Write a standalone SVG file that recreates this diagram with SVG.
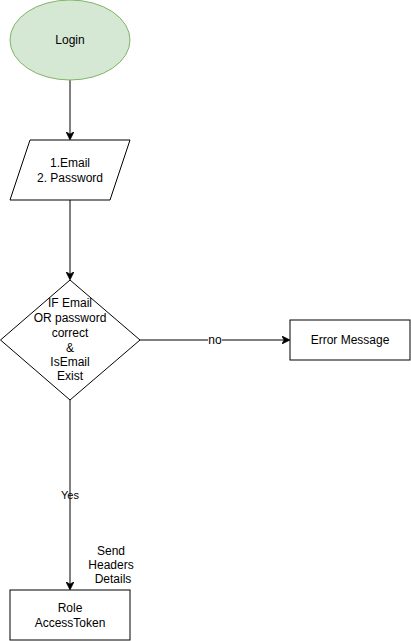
<svg xmlns="http://www.w3.org/2000/svg" width="411" height="641" viewBox="0 0 411 641">
<style>
.t{font-family:"Liberation Sans",Arial,sans-serif;font-size:12px;fill:#000;text-anchor:middle}
.s{fill:#fff;stroke:#000;stroke-width:1}
.e{fill:none;stroke:#000;stroke-width:1}
</style>
<defs>
<marker id="arr" viewBox="0 0 10 10" refX="9" refY="5" markerWidth="8" markerHeight="8" markerUnits="userSpaceOnUse" orient="auto">
<path d="M0,0 L10,5 L0,10 L3,5 Z" fill="#000" stroke="#000" stroke-width="1"/>
</marker>
</defs>
<rect width="411" height="641" fill="#fff"/>
<g id="connectors">
<path class="e" d="M70,80 L70,139" marker-end="url(#arr)"/>
<path class="e" d="M70,200 L70,279" marker-end="url(#arr)"/>
<path class="e" d="M140,340 L289,340" marker-end="url(#arr)"/>
<rect x="208" y="333" width="14" height="14" fill="#fff"/>
<text class="t" x="215" y="344" font-size="11">no</text>
<path class="e" d="M70,400 L70,589" marker-end="url(#arr)"/>
<text class="t" x="70" y="499" style="font-size:11px">Yes</text>
</g>
<g id="login">
<ellipse cx="70" cy="40" rx="60" ry="40" fill="#d5e8d4" stroke="#82b366"/>
<text class="t" x="70" y="44">Login</text>
</g>
<g id="input">
<polygon class="s" points="30,140 130,140 110,200 10,200"/>
<text class="t" x="70" y="167">1.Email</text>
<text class="t" x="70" y="182">2. Password</text>
</g>
<g id="decision">
<polygon class="s" points="70,280 140,340 70,400 0.5,340"/>
<text class="t" x="70" y="307">IF Email</text>
<text class="t" x="70" y="322">OR password</text>
<text class="t" x="70" y="337">correct</text>
<text class="t" x="70" y="352">&amp;</text>
<text class="t" x="70" y="366">IsEmail</text>
<text class="t" x="70" y="380">Exist</text>
</g>
<g id="error">
<rect class="s" x="290" y="320" width="120" height="40"/>
<text class="t" x="350" y="344">Error Message</text>
</g>
<g id="send-label">
<text class="t" x="111" y="555">Send</text>
<text class="t" x="111" y="569">Headers</text>
<text class="t" x="113" y="583">Details</text>
</g>
<g id="role">
<rect class="s" x="10" y="590" width="120" height="50"/>
<text class="t" x="70" y="612">Role</text>
<text class="t" x="70" y="627">AccessToken</text>
</g>
</svg>
